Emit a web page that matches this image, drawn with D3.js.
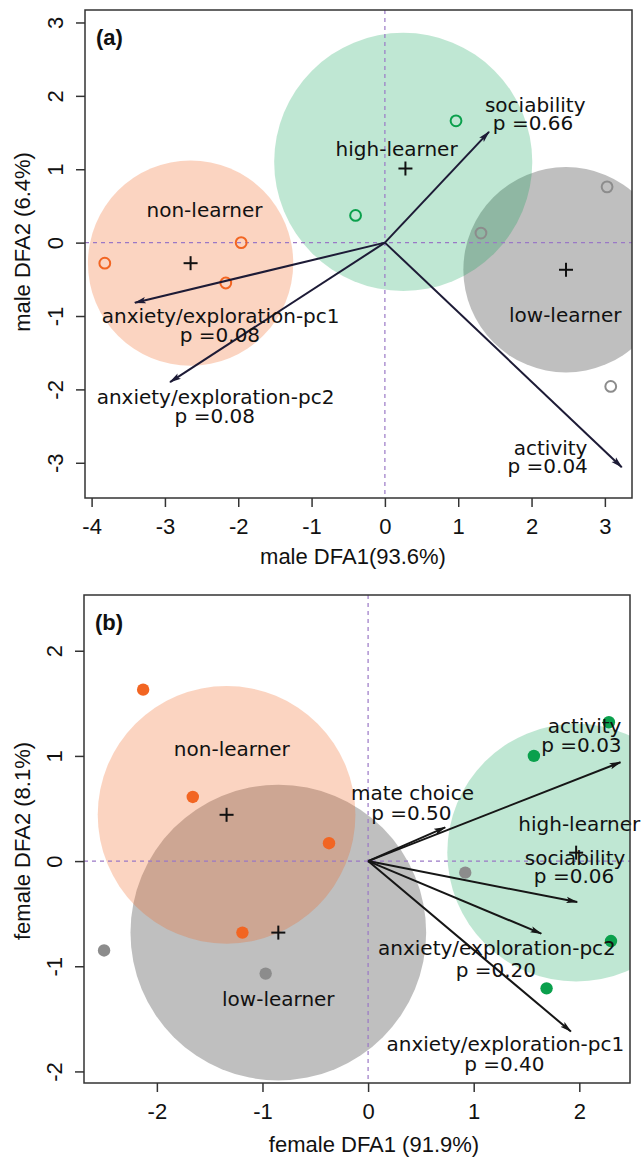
<!DOCTYPE html>
<html>
<head>
<meta charset="utf-8">
<script src="https://cdn.jsdelivr.net/npm/d3@7"></script>
<style>
  html, body { margin: 0; padding: 0; background: #ffffff; }
  svg { display: block; }
</style>
</head>
<body>
<svg id="sketchbook" width="641" height="1157"></svg>
<script>
// ---- panel (a) male ----
let maleTicksX = [-4, -3, -2, -1, 0, 1, 2, 3];
let maleTicksY = [-3, -2, -1, 0, 1, 2, 3];
let malePoints = [
    { g: 'non', x: -3.82, y: -0.28 },
    { g: 'non', x: -1.96, y: 0.00 },
    { g: 'non', x: -2.17, y: -0.55 },
    { g: 'high', x: -0.40, y: 0.37 },
    { g: 'high', x: 0.97, y: 1.66 },
    { g: 'low', x: 1.31, y: 0.13 },
    { g: 'low', x: 3.03, y: 0.76 },
    { g: 'low', x: 3.08, y: -1.96 },
];
// x, y = group centroid (+); cx, cy, r = shaded circle
let maleGroups = [
    { g: 'low', name: 'low-learner', x: 2.47, y: -0.37, cx: 2.47, cy: -0.37, r: 1.40 },
    { g: 'non', name: 'non-learner', x: -2.65, y: -0.28, cx: -2.65, cy: -0.28, r: 1.40 },
    { g: 'high', name: 'high-learner', x: 0.28, y: 1.01, cx: 0.25, cy: 1.10, r: 1.76 },
];
let maleArrows = [
    { name: 'sociability', p: 'p =0.66', x: 1.42, y: 1.51 },
    { name: 'activity', p: 'p =0.04', x: 3.23, y: -3.06 },
    { name: 'anxiety/exploration-pc1', p: 'p =0.08', x: -3.41, y: -0.82 },
    { name: 'anxiety/exploration-pc2', p: 'p =0.08', x: -2.93, y: -1.90 },
];

// ---- panel (b) female ----
let femaleTicksX = [-2, -1, 0, 1, 2];
let femaleTicksY = [-2, -1, 0, 1, 2];
let femalePoints = [
    { g: 'non', x: -2.13, y: 1.63 },
    { g: 'non', x: -1.66, y: 0.61 },
    { g: 'non', x: -0.37, y: 0.17 },
    { g: 'non', x: -1.19, y: -0.68 },
    { g: 'low', x: -2.50, y: -0.85 },
    { g: 'low', x: -0.97, y: -1.07 },
    { g: 'low', x: 0.92, y: -0.11 },
    { g: 'high', x: 2.28, y: 1.32 },
    { g: 'high', x: 1.57, y: 1.00 },
    { g: 'high', x: 2.30, y: -0.76 },
    { g: 'high', x: 1.69, y: -1.21 },
];
let femaleGroups = [
    { g: 'low', name: 'low-learner', x: -0.85, y: -0.68, cx: -0.85, cy: -0.68, r: 1.40 },
    { g: 'non', name: 'non-learner', x: -1.34, y: 0.44, cx: -1.34, cy: 0.44, r: 1.22 },
    { g: 'high', name: 'high-learner', x: 1.97, y: 0.08, cx: 1.97, cy: 0.08, r: 1.22 },
];
let femaleArrows = [
    { name: 'activity', p: 'p =0.03', x: 2.39, y: 0.94 },
    { name: 'mate choice', p: 'p =0.50', x: 0.73, y: 0.32 },
    { name: 'sociability', p: 'p =0.06', x: 1.98, y: -0.39 },
    { name: 'anxiety/exploration-pc2', p: 'p =0.20', x: 1.64, y: -0.69 },
    { name: 'anxiety/exploration-pc1', p: 'p =0.40', x: 1.92, y: -1.62 },
];

// label anchors (data units): [name x, name y, p x, p y]
let maleArrowLabels = {
    'sociability': [2.05, 1.78, 2.02, 1.53],
    'activity': [2.26, -2.90, 2.22, -3.14],
    'anxiety/exploration-pc1': [-2.24, -1.10, -2.25, -1.36],
    'anxiety/exploration-pc2': [-2.31, -2.20, -2.32, -2.46],
};
let maleGroupLabels = {
    'non-learner': [-2.46, 0.35],
    'high-learner': [0.16, 1.18],
    'low-learner': [2.46, -1.08],
};
let femaleArrowLabels = {
    'activity': [2.05, 1.22, 2.02, 1.04],
    'mate choice': [0.42, 0.58, 0.41, 0.39],
    'sociability': [1.96, -0.04, 1.95, -0.21],
    'anxiety/exploration-pc2': [1.22, -0.89, 1.21, -1.10],
    'anxiety/exploration-pc1': [1.30, -1.81, 1.29, -2.00],
};
let femaleGroupLabels = {
    'non-learner': [-1.29, 1.00],
    'high-learner': [2.00, 0.29],
    'low-learner': [-0.85, -1.38],
};

let fillColor = {
    non: 'rgba(242,101,34,0.28)',
    high: 'rgba(0,160,80,0.25)',
    low: 'rgba(128,128,128,0.5)',
};
let pointColor = {
    non: '#f26522',
    high: '#0aa04c',
    low: '#8c8c8c',
};

function drawPanel (svg, cfg) {
    let x = d3.scaleLinear().domain(cfg.xDomain).range([cfg.left, cfg.right]);
    let y = d3.scaleLinear().domain(cfg.yDomain).range([cfg.bottom, cfg.top]);
    let unit = x(1) - x(0);

    let g = svg.append('g').attr('class', 'panel ' + cfg.id);

    g.append('clipPath')
        .attr('id', 'clip-' + cfg.id)
        .append('rect')
        .attr('x', cfg.left)
        .attr('y', cfg.top)
        .attr('width', cfg.right - cfg.left)
        .attr('height', cfg.bottom - cfg.top);

    // group circles
    g.append('g')
        .attr('clip-path', 'url(#clip-' + cfg.id + ')')
        .selectAll('circle.group')
        .data(cfg.groups)
        .enter()
        .append('circle')
        .attr('class', 'group')
        .attr('cx', (d) => { return x(d.cx); })
        .attr('cy', (d) => { return y(d.cy); })
        .attr('r', (d) => { return d.r * unit; })
        .attr('fill', (d) => { return fillColor[d.g]; });

    // zero lines
    g.append('line')
        .attr('x1', x(0)).attr('x2', x(0))
        .attr('y1', cfg.top).attr('y2', cfg.bottom)
        .attr('stroke', '#9a78c6').attr('stroke-width', 1.2)
        .attr('stroke-dasharray', '4,4');
    g.append('line')
        .attr('x1', cfg.left).attr('x2', cfg.right)
        .attr('y1', y(0)).attr('y2', y(0))
        .attr('stroke', '#9a78c6').attr('stroke-width', 1.2)
        .attr('stroke-dasharray', '4,4');

    // points
    g.selectAll('circle.pt')
        .data(cfg.points)
        .enter()
        .append('circle')
        .attr('class', 'pt')
        .attr('cx', (d) => { return x(d.x); })
        .attr('cy', (d) => { return y(d.y); })
        .attr('r', cfg.filled ? 6.2 : 5.4)
        .attr('fill', (d) => { return cfg.filled ? pointColor[d.g] : 'none'; })
        .attr('stroke', (d) => { return cfg.filled ? 'none' : pointColor[d.g]; })
        .attr('stroke-width', 2);

    // centroids
    let plus = g.selectAll('g.plus')
        .data(cfg.groups)
        .enter()
        .append('g')
        .attr('class', 'plus')
        .attr('transform', (d) => { return 'translate(' + x(d.x) + ',' + y(d.y) + ')'; });
    plus.append('line').attr('x1', -7).attr('x2', 7).attr('y1', 0).attr('y2', 0)
        .attr('stroke', '#111').attr('stroke-width', 2);
    plus.append('line').attr('x1', 0).attr('x2', 0).attr('y1', -7).attr('y2', 7)
        .attr('stroke', '#111').attr('stroke-width', 2);

    // arrows
    g.append('defs').append('marker')
        .attr('id', 'head-' + cfg.id)
        .attr('viewBox', '0 0 12 8')
        .attr('refX', 11).attr('refY', 4)
        .attr('markerWidth', 12).attr('markerHeight', 8)
        .attr('markerUnits', 'userSpaceOnUse')
        .attr('orient', 'auto')
        .append('path')
        .attr('d', 'M0,0.8 L12,4 L0,7.2 L2.5,4 Z')
        .attr('fill', cfg.arrowColor);

    g.selectAll('line.arrow')
        .data(cfg.arrows)
        .enter()
        .append('line')
        .attr('class', 'arrow')
        .attr('x1', x(0)).attr('y1', y(0))
        .attr('x2', (d) => { return x(d.x); })
        .attr('y2', (d) => { return y(d.y); })
        .attr('stroke', cfg.arrowColor)
        .attr('stroke-width', 2)
        .attr('marker-end', 'url(#head-' + cfg.id + ')');

    // arrow labels
    let font = '"DejaVu Sans", sans-serif';
    g.selectAll('text.aname')
        .data(cfg.arrows)
        .enter()
        .append('text')
        .attr('class', 'aname')
        .attr('x', (d) => { return x(cfg.arrowLabels[d.name][0]); })
        .attr('y', (d) => { return y(cfg.arrowLabels[d.name][1]); })
        .attr('text-anchor', 'middle')
        .attr('font-family', font).attr('font-size', 20)
        .attr('fill', '#111')
        .text((d) => { return d.name; });
    g.selectAll('text.ap')
        .data(cfg.arrows)
        .enter()
        .append('text')
        .attr('class', 'ap')
        .attr('x', (d) => { return x(cfg.arrowLabels[d.name][2]); })
        .attr('y', (d) => { return y(cfg.arrowLabels[d.name][3]); })
        .attr('text-anchor', 'middle')
        .attr('font-family', font).attr('font-size', 20)
        .attr('fill', '#111')
        .text((d) => { return d.p; });

    // group labels
    g.selectAll('text.gname')
        .data(cfg.groups)
        .enter()
        .append('text')
        .attr('class', 'gname')
        .attr('x', (d) => { return x(cfg.groupLabels[d.name][0]); })
        .attr('y', (d) => { return y(cfg.groupLabels[d.name][1]); })
        .attr('text-anchor', 'middle')
        .attr('font-family', font).attr('font-size', 20)
        .attr('fill', '#111')
        .text((d) => { return d.name; });

    // box
    g.append('rect')
        .attr('x', cfg.left).attr('y', cfg.top)
        .attr('width', cfg.right - cfg.left)
        .attr('height', cfg.bottom - cfg.top)
        .attr('fill', 'none')
        .attr('stroke', '#333')
        .attr('stroke-width', 1.5);

    // axes
    let axisFont = '"Liberation Sans", Arial, sans-serif';
    let xAxis = g.append('g')
        .attr('transform', 'translate(0,' + cfg.bottom + ')')
        .call(d3.axisBottom(x).tickValues(cfg.ticksX).tickSize(9).tickPadding(11).tickFormat(d3.format('d')));
    xAxis.select('.domain').remove();
    xAxis.selectAll('line').attr('stroke', '#333').attr('stroke-width', 1.5);
    xAxis.selectAll('text').attr('font-family', axisFont).attr('font-size', 22).attr('fill', '#111')
        .text((d) => { return d < 0 ? '-' + Math.abs(d) : d; });

    let yAxis = g.append('g')
        .attr('transform', 'translate(' + cfg.left + ',0)')
        .call(d3.axisLeft(y).tickValues(cfg.ticksY).tickSize(9).tickFormat(d3.format('d')));
    yAxis.select('.domain').remove();
    yAxis.selectAll('line').attr('stroke', '#333').attr('stroke-width', 1.5);
    yAxis.selectAll('text')
        .attr('font-family', axisFont).attr('font-size', 22).attr('fill', '#111')
        .attr('x', 0).attr('dy', 0)
        .attr('text-anchor', 'middle')
        .attr('transform', 'translate(-22,0) rotate(-90)')
        .text((d) => { return d < 0 ? '-' + Math.abs(d) : d; });

    g.append('text')
        .attr('x', cfg.xLabelX).attr('y', cfg.xLabelY)
        .attr('text-anchor', 'middle')
        .attr('font-family', axisFont).attr('font-size', 22).attr('fill', '#111')
        .text(cfg.xLabel);
    g.append('text')
        .attr('transform', 'translate(30,' + cfg.yLabelY + ') rotate(-90)')
        .attr('text-anchor', 'middle')
        .attr('font-family', axisFont).attr('font-size', 22).attr('fill', '#111')
        .text(cfg.yLabel);

    g.append('text')
        .attr('x', cfg.left + 11).attr('y', cfg.top + 35)
        .attr('font-family', axisFont).attr('font-size', 22)
        .attr('font-weight', 'bold').attr('fill', '#111')
        .text(cfg.tag);
}

let svg = d3.select('#sketchbook');

drawPanel(svg, {
    id: 'a', tag: '(a)',
    left: 85, right: 632, top: 10, bottom: 498,
    xDomain: [-4.09, 3.37], yDomain: [-3.48, 3.17],
    ticksX: maleTicksX, ticksY: maleTicksY,
    points: malePoints, groups: maleGroups, arrows: maleArrows,
    arrowLabels: maleArrowLabels, groupLabels: maleGroupLabels,
    filled: false, arrowColor: '#1d1b36',
    xLabel: 'male DFA1(93.6%)', xLabelX: 353, xLabelY: 564,
    yLabel: 'male DFA2 (6.4%)', yLabelY: 242,
});

drawPanel(svg, {
    id: 'b', tag: '(b)',
    left: 84, right: 630, top: 595, bottom: 1083,
    xDomain: [-2.69, 2.48], yDomain: [-2.11, 2.53],
    ticksX: femaleTicksX, ticksY: femaleTicksY,
    points: femalePoints, groups: femaleGroups, arrows: femaleArrows,
    arrowLabels: femaleArrowLabels, groupLabels: femaleGroupLabels,
    filled: true, arrowColor: '#161616',
    xLabel: 'female DFA1 (91.9%)', xLabelX: 374, xLabelY: 1152,
    yLabel: 'female DFA2 (8.1%)', yLabelY: 841,
});
</script>
</body>
</html>
